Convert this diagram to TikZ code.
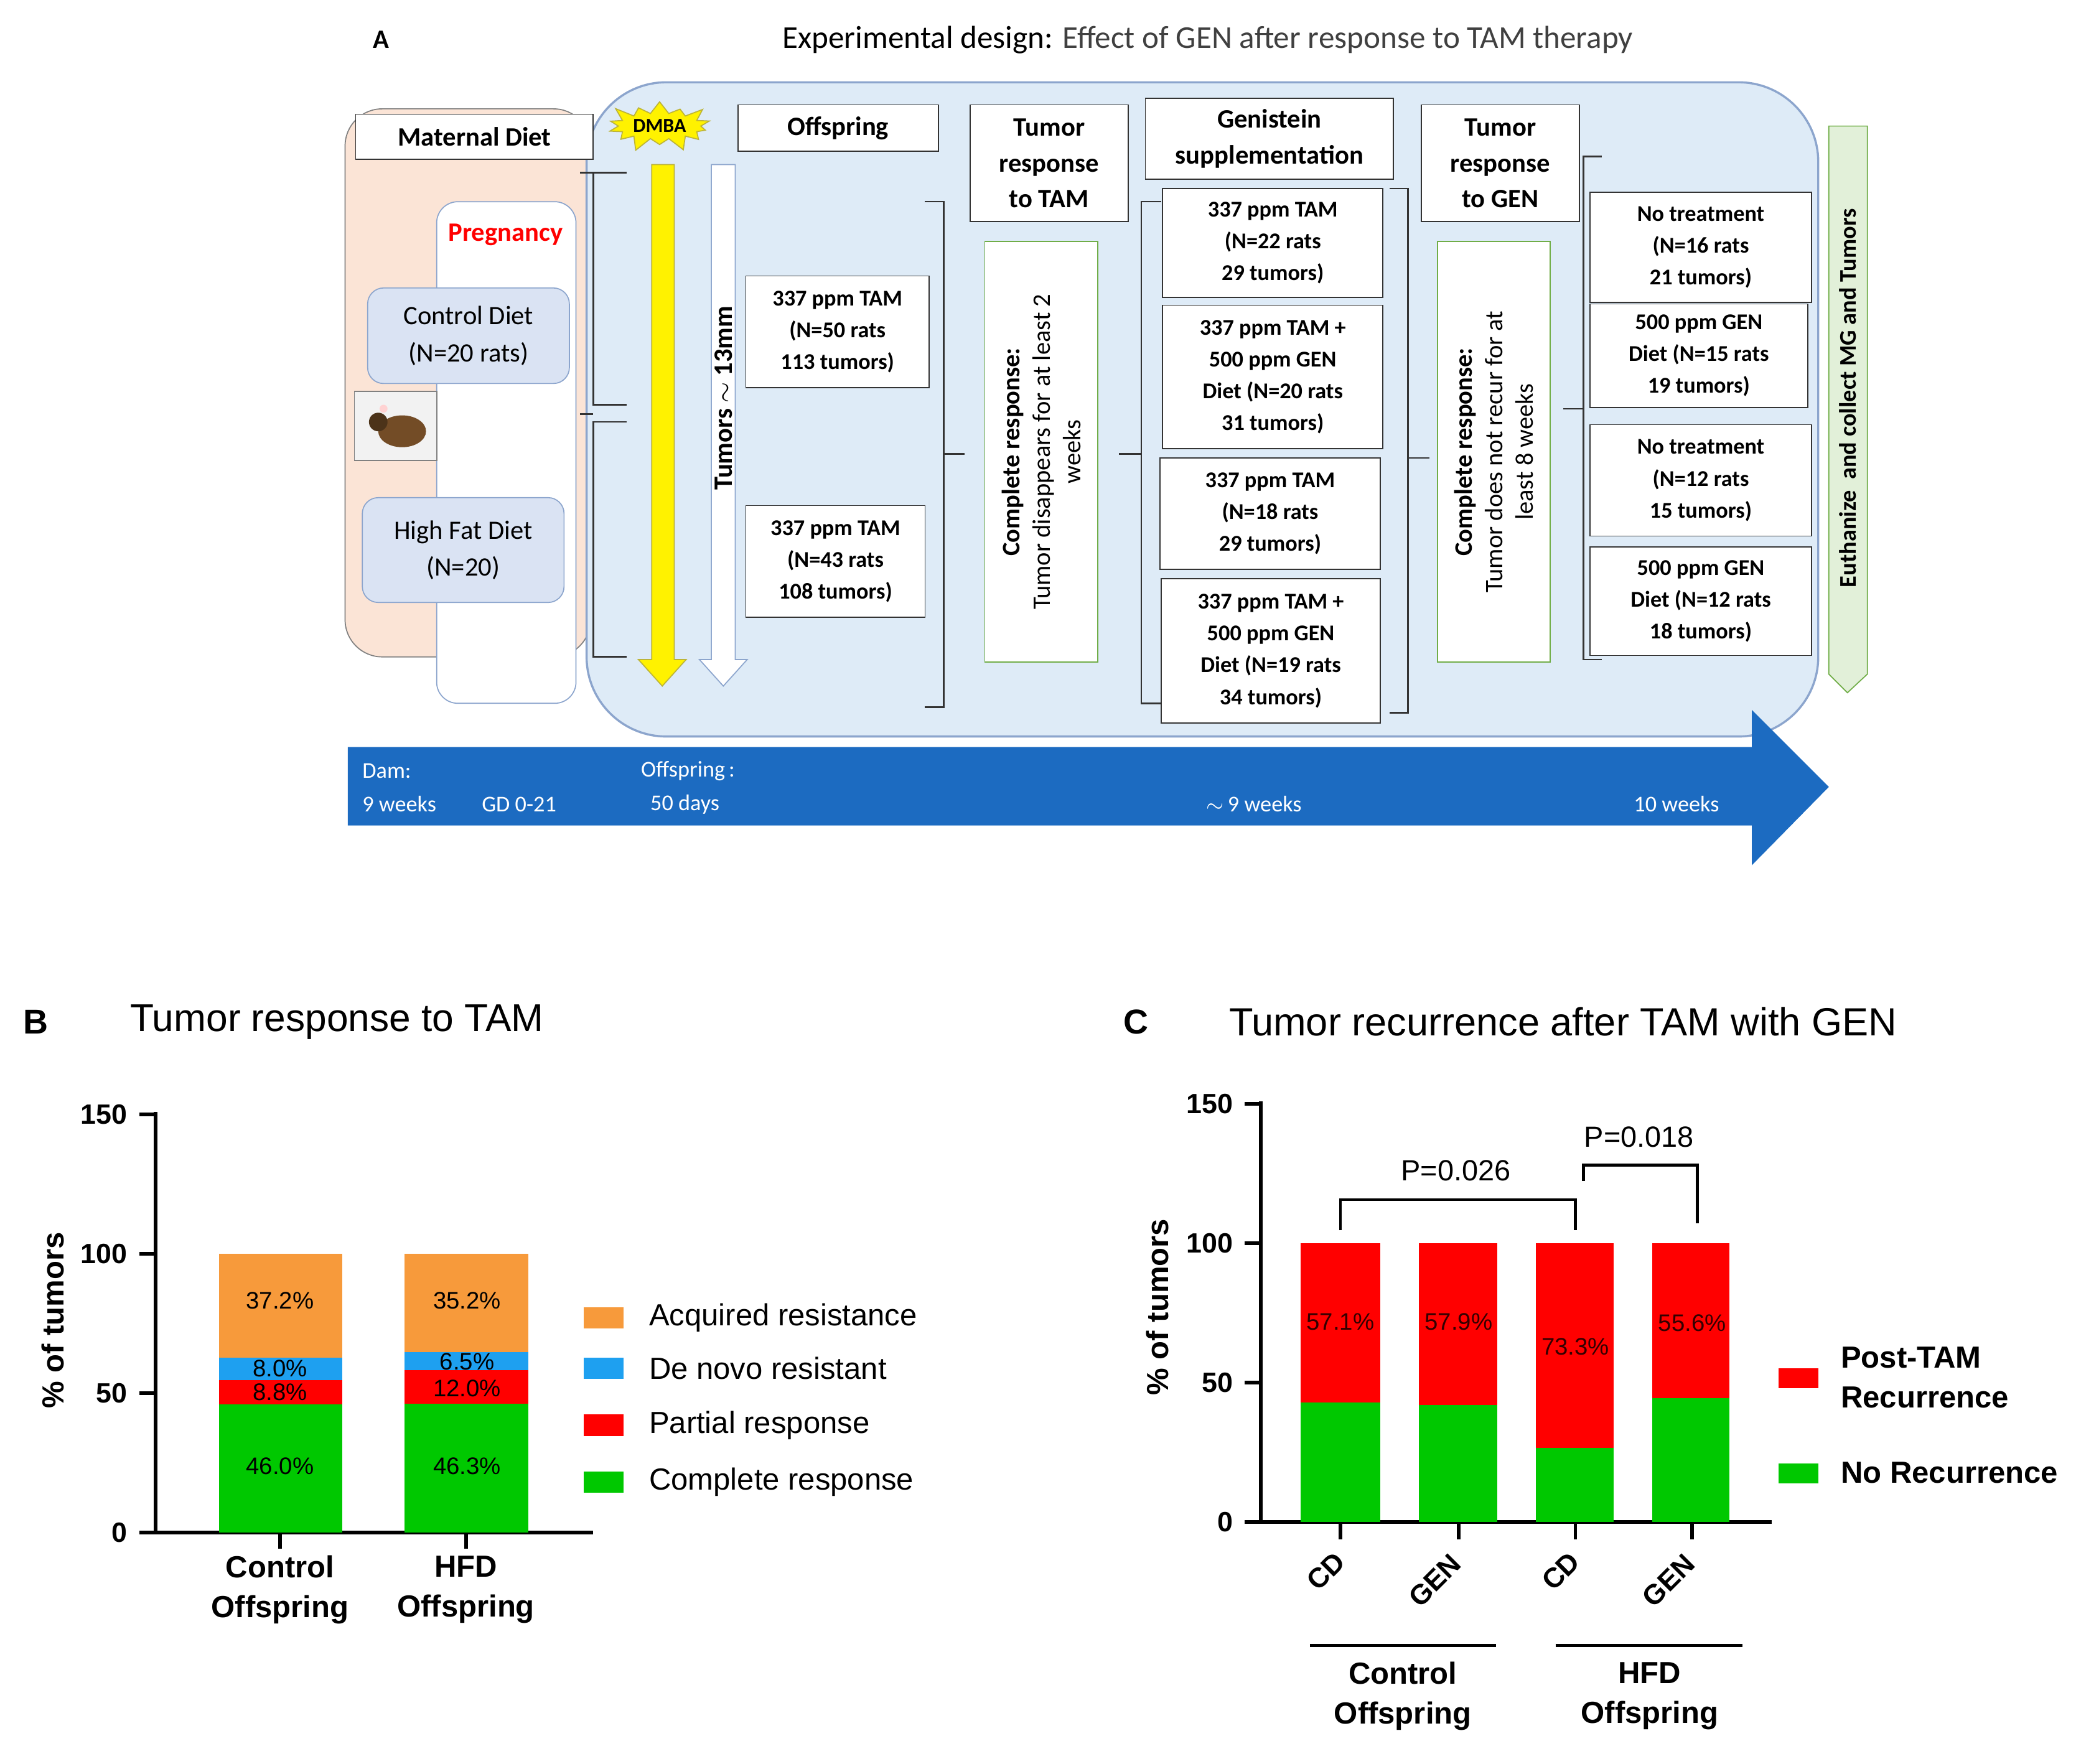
\documentclass[tikz,border=0pt]{standalone}
\usepackage{fontspec}
\setmainfont{Carlito}
\newfontfamily\fB{Liberation Sans}
\usetikzlibrary{shapes.symbols,fit}
\definecolor{peach}{RGB}{251,228,214}
\definecolor{lblue}{RGB}{222,235,247}
\definecolor{bblue}{RGB}{218,227,243}
\definecolor{bord}{RGB}{140,165,205}
\definecolor{tl}{RGB}{28,107,193}
\definecolor{cO}{RGB}{247,154,59}
\definecolor{cB}{RGB}{30,160,240}
\definecolor{cR}{RGB}{255,0,0}
\definecolor{cG}{RGB}{0,200,0}
\definecolor{lgreen}{RGB}{226,240,217}
\definecolor{gbord}{RGB}{112,173,71}
\tikzset{
 box/.style={draw=black!80,fill=white,inner sep=0pt},
 bt/.style={align=center,font=\bfseries\fontsize{8.5}{12}\selectfont,inner sep=0pt},
 bth/.style={align=center,font=\bfseries\fontsize{10}{13.5}\selectfont,inner sep=0pt},
 rbox/.style={draw=bord,fill=bblue,rounded corners=6pt,inner sep=0pt},
 rt/.style={align=center,font=\fontsize{10}{14}\selectfont,inner sep=0pt},
 gbox/.style={draw=gbord,fill=white,inner sep=0pt},
 br/.style={draw=black!80,line width=0.6pt},
 ax/.style={line width=1.4pt},
 num/.style={font=\fB\bfseries\fontsize{10.5}{12}\selectfont},
 lab/.style={font=\fB\fontsize{9}{10}\selectfont},
 leg/.style={font=\fB\fontsize{11.5}{14}\selectfont,anchor=west},
 tlt/.style={font=\color{white}\fontsize{8.5}{10}\selectfont,anchor=west},
}
\newcommand\bx[5]{\node[#4,fit={(#2)}] (#1) {}; \node[#5] (#1t) at (#1.center) {#3};}
\begin{document}
\begin{tikzpicture}[x=0.5pt,y=-0.5pt]
\useasboundingbox (0,0) rectangle (1568,1329);
% ---------- A ----------
\node[font=\bfseries\fontsize{10}{12}\selectfont] (A) at (287,30) {A};
\node[font=\fontsize{12}{14}\selectfont] (T) at (910,30) {Experimental design: \textcolor{black!75}{Effect of GEN after response to TAM therapy}};
\node[draw=black!50,fill=peach,rounded corners=14pt,inner sep=0pt,fit={(260,82)(445,495)}] (pink) {};
\node[draw=bord,fill=lblue,rounded corners=30pt,inner sep=0pt,line width=0.8pt,fit={(442,62)(1370,555)}] (big) {};
\bx{md}{268,86)(447,120}{Maternal Diet}{box}{bth}
\node[draw=bord,fill=white,rounded corners=8pt,inner sep=0pt,fit={(329,152)(434,530)}] (preg) {};
\node[font=\bfseries\fontsize{10}{12}\selectfont,text=red] (pt) at (381,177) {Pregnancy};
\bx{cd}{277,217)(429,289}{Control Diet\\(N=20 rats)}{rbox}{rt}
\bx{hfd}{273,375)(425,454}{High Fat Diet\\(N=20)}{rbox}{rt}
\node[draw=black!50,fill=black!5,inner sep=0pt,fit={(267,295)(329,347)}] (rat) {};
\fill[brown!60!black] (303,325) ellipse (18 and 12);
\fill[brown!40!black] (285,318) circle (7);
\fill[pink!70] (289,308) circle (3);
% braces left
\draw[br] (472,130) -- (447,130) -- (447,305) -- (472,305);
\draw[br] (472,318) -- (447,318) -- (447,495) -- (472,495);
\draw[br] (437,130) -- (447,130); \draw[br] (437,312) -- (447,312);
% DMBA
\node[starburst,starburst points=14,starburst point height=6pt,fill=yellow,draw=yellow!70!black,inner sep=1pt,font=\bfseries\fontsize{7.5}{9}\selectfont] (dmba) at (497,95) {DMBA};
\fill[yellow,draw=yellow!70!black] (491,124) -- (508,124) -- (508,497) -- (517,497) -- (499,517) -- (481,497) -- (491,497) -- cycle;
\filldraw[fill=white,draw=bord] (536,124) -- (554,124) -- (554,497) -- (563,497) -- (545,517) -- (527,497) -- (536,497) -- cycle;
\node[rotate=90,font=\bfseries\fontsize{10}{12}\selectfont] (tum) at (545,300) {Tumors $\sim$ 13mm};
\bx{off}{556,79)(707,114}{Offspring}{box}{bth}
\bx{t1}{562,208)(700,292}{337 ppm TAM\\(N=50 rats\\113 tumors)}{box}{bt}
\bx{t2}{562,381)(697,465}{337 ppm TAM\\(N=43 rats\\108 tumors)}{box}{bt}
\draw[br] (697,152) -- (711,152) -- (711,342) -- (727,342) (711,342) -- (711,533) -- (697,533);
\bx{rt}{731,79)(850,167}{Tumor\\response\\to TAM}{box}{bth}
\node[gbox,fit={(742,182)(827,499)}] (g1) {};
\node[rotate=90,align=center,font=\fontsize{9.5}{11.5}\selectfont] at (g1.center) {\textbf{Complete response:}\\Tumor disappears for at least 2\\weeks};
\draw[br] (875,152) -- (860,152) -- (860,342) -- (843,342) (860,342) -- (860,530) -- (875,530);
\bx{gs}{863,74)(1050,135}{Genistein\\supplementation}{box}{bth}
\bx{b1}{876,142)(1042,224}{337 ppm TAM\\(N=22 rats\\29 tumors)}{box}{bt}
\bx{b2}{876,230)(1042,338}{337 ppm TAM +\\500 ppm GEN\\Diet (N=20 rats\\31 tumors)}{box}{bt}
\bx{b3}{874,345)(1040,429}{337 ppm TAM\\(N=18 rats\\29 tumors)}{box}{bt}
\bx{b4}{875,436)(1040,545}{337 ppm TAM +\\500 ppm GEN\\Diet (N=19 rats\\34 tumors)}{box}{bt}
\draw[br] (1047,142) -- (1061,142) -- (1061,345) -- (1077,345) (1061,345) -- (1061,537) -- (1047,537);
\bx{rg}{1071,79)(1190,167}{Tumor\\response\\to GEN}{box}{bth}
\node[gbox,fit={(1083,182)(1168,499)}] (g2) {};
\node[rotate=90,align=center,font=\fontsize{9.5}{11.5}\selectfont] at (g2.center) {\textbf{Complete response:}\\Tumor does not recur for at\\least 8 weeks};
\draw[br] (1207,118) -- (1193,118) -- (1193,308) -- (1178,308) (1193,308) -- (1193,497) -- (1207,497);
\bx{c1}{1198,145)(1365,228}{No treatment\\(N=16 rats\\21 tumors)}{box}{bt}
\bx{c2}{1198,229)(1362,307}{500 ppm GEN\\Diet (N=15 rats\\19 tumors)}{box}{bt}
\bx{c3}{1198,320)(1365,404}{No treatment\\(N=12 rats\\15 tumors)}{box}{bt}
\bx{c4}{1198,412)(1365,494}{500 ppm GEN\\Diet (N=12 rats\\18 tumors)}{box}{bt}
\filldraw[fill=lgreen,draw=gbord] (1378,95) -- (1407,95) -- (1407,508) -- (1392,522) -- (1378,508) -- cycle;
\node[rotate=90,font=\bfseries\fontsize{9}{11}\selectfont] (eu) at (1392,300) {Euthanize \ and collect MG and Tumors};
% timeline
\fill[tl] (262,563) -- (1320,563) -- (1320,535) -- (1378,593) -- (1320,652) -- (1320,622) -- (262,622) -- cycle;
\node[tlt] at (266,581) {Dam:};
\node[tlt] at (266,606) {9 weeks};
\node[tlt] at (356,606) {GD 0-21};
\node[tlt] at (476,581) {Offspring\,:};
\node[tlt] at (483,606) {50 days};
\node[tlt] at (902,606) {$\sim$\,9 weeks};
\node[tlt] at (1224,606) {10 weeks};
% ---------- B ----------
\node[font=\fB\bfseries\fontsize{13}{15}\selectfont] (Bl) at (27,770) {B};
\node[font=\fB\fontsize{14.6}{16}\selectfont,anchor=west] (Bt) at (91,770) {Tumor response to TAM};
\draw[ax] (117,838) -- (117,1155) -- (447,1155);
\foreach \v/\y in {150/840,100/945,50/1050,0/1155}{
  \draw[ax] (105,\y) -- (117,\y);
  \node[num,anchor=east] at (103,\y) {\v};}
\node[rotate=90,font=\fB\bfseries\fontsize{11.5}{14}\selectfont] (By) at (40,995) {\% of tumors};
\fill[cG] (165,1155) rectangle (258,1058.4);
\fill[cR] (165,1058.4) rectangle (258,1039.9);
\fill[cB] (165,1039.9) rectangle (258,1023.1);
\fill[cO] (165,1023.1) rectangle (258,945);
\fill[cG] (305,1155) rectangle (398,1057.8);
\fill[cR] (305,1057.8) rectangle (398,1032.6);
\fill[cB] (305,1032.6) rectangle (398,1018.9);
\fill[cO] (305,1018.9) rectangle (398,945);
\node[lab] at (211,1105) {46.0\%}; \node[lab] at (211,1049) {8.8\%};
\node[lab] at (211,1031) {8.0\%}; \node[lab] at (211,980) {37.2\%};
\node[lab] at (352,1105) {46.3\%}; \node[lab] at (352,1046) {12.0\%};
\node[lab] at (352,1026) {6.5\%}; \node[lab] at (352,980) {35.2\%};
\draw[ax] (211,1155) -- (211,1167); \draw[ax] (351,1155) -- (351,1167);
\node[align=center,font=\fB\bfseries\fontsize{11.5}{15}\selectfont] at (211,1198) {Control\\Offspring};
\node[align=center,font=\fB\bfseries\fontsize{11.5}{15}\selectfont] at (351,1198) {HFD\\Offspring};
\fill[cO] (440,985) rectangle (470,1001);
\fill[cB] (440,1023) rectangle (470,1039);
\fill[cR] (440,1066) rectangle (470,1082);
\fill[cG] (440,1109) rectangle (470,1125);
\node[leg] at (482,993) {Acquired resistance};
\node[leg] at (482,1031) {De novo resistant};
\node[leg] at (482,1074) {Partial response};
\node[leg] at (482,1117) {Complete response};
% ---------- C ----------
\node[font=\fB\bfseries\fontsize{13}{15}\selectfont] (Cl) at (856,770) {C};
\node[font=\fB\fontsize{14.8}{16}\selectfont,anchor=west] (Ct) at (919,770) {Tumor recurrence after TAM with GEN};
\draw[ax] (950,830) -- (950,1147) -- (1335,1147);
\foreach \v/\y in {150/832,100/937,50/1042,0/1147}{
  \draw[ax] (938,\y) -- (950,\y);
  \node[num,anchor=east] at (936,\y) {\v};}
\node[rotate=90,font=\fB\bfseries\fontsize{11.5}{14}\selectfont] (Cy) at (872,985) {\% of tumors};
\fill[cG] (980,1147) rectangle (1040,1056.9); \fill[cR] (980,1056.9) rectangle (1040,937);
\fill[cG] (1069,1147) rectangle (1128,1058.6); \fill[cR] (1069,1058.6) rectangle (1128,937);
\fill[cG] (1157,1147) rectangle (1216,1090.9); \fill[cR] (1157,1090.9) rectangle (1216,937);
\fill[cG] (1245,1147) rectangle (1303,1053.8); \fill[cR] (1245,1053.8) rectangle (1303,937);
\node[lab,text=black!80!red] at (1010,996) {57.1\%};
\node[lab,text=black!80!red] at (1099,996) {57.9\%};
\node[lab,text=black!80!red] at (1187,1015) {73.3\%};
\node[lab,text=black!80!red] at (1275,997) {55.6\%};
\foreach \x in {1010,1099,1187,1275} \draw[ax] (\x,1147) -- (\x,1160);
\foreach \x/\y/\t in {999/1184/CD,1081/1191/GEN,1176/1184/CD,1257/1191/GEN}
  \node[rotate=45,font=\fB\bfseries\fontsize{10.5}{12}\selectfont,inner sep=0pt] at (\x,\y) {\t};
\draw[line width=1.2pt] (987,1240) -- (1127,1240);
\draw[line width=1.2pt] (1172,1240) -- (1313,1240);
\node[align=center,font=\fB\bfseries\fontsize{11.5}{15}\selectfont] at (1057,1278) {Control\\Offspring};
\node[align=center,font=\fB\bfseries\fontsize{11.5}{15}\selectfont] at (1243,1278) {HFD\\Offspring};
\draw[line width=1.1pt] (1010,927) -- (1010,904) -- (1187,904) -- (1187,927);
\draw[line width=1.1pt] (1193,890) -- (1193,878) -- (1279,878) -- (1279,922);
\node[font=\fB\fontsize{11}{13}\selectfont] at (1097,882) {P=0.026};
\node[font=\fB\fontsize{11}{13}\selectfont] at (1235,857) {P=0.018};
\fill[cR] (1340,1031) rectangle (1370,1046);
\fill[cG] (1340,1103) rectangle (1370,1118);
\node[leg,font=\fB\bfseries\fontsize{11.5}{15}\selectfont,align=left] at (1380,1038) {Post-TAM\\Recurrence};
\node[leg,font=\fB\bfseries\fontsize{11.5}{15}\selectfont] at (1380,1110) {No Recurrence};
\end{tikzpicture}
\end{document}
